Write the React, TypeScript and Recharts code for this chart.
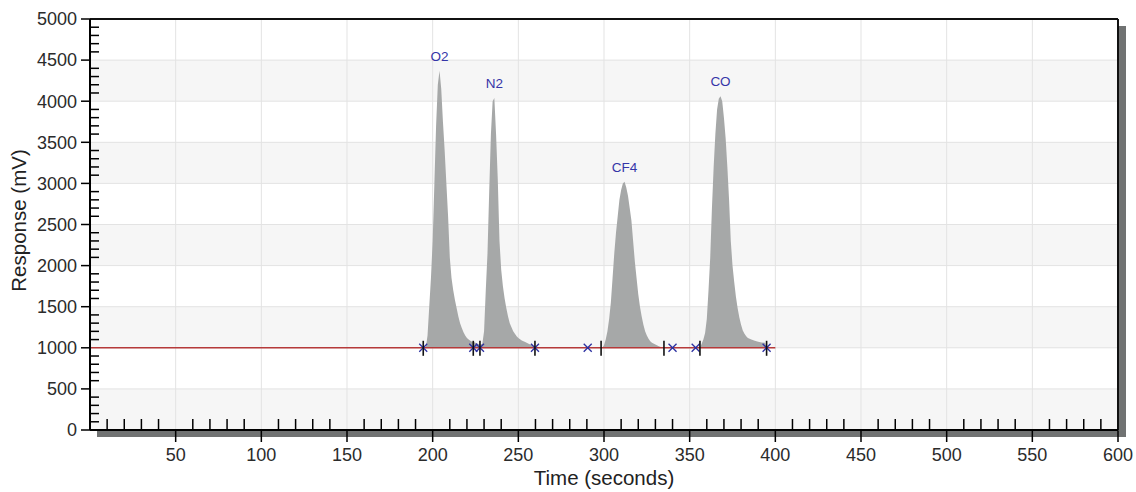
import { ComposedChart, Area, Line, Scatter, XAxis, YAxis, CartesianGrid, ReferenceLine } from 'recharts';

// Axis ticks
const xTicks = [50, 100, 150, 200, 250, 300, 350, 400, 450, 500, 550, 600];
const yTicks = [0, 500, 1000, 1500, 2000, 2500, 3000, 3500, 4000, 4500, 5000];
// minor ticks: every 10 s and every 100 mV
const xAllTicks = Array.from({ length: 60 }, (_, i) => (i + 1) * 10);
const yAllTicks = Array.from({ length: 51 }, (_, i) => i * 100);

// Baseline (red line)
const baselineTimes = [0, 400];
const baselineLevel = 1000;

// Detector trace, [time, response] pairs for each peak
const o2Trace = [
  [196, 1000], [197, 1150], [198, 1500], [199, 1850], [200, 2300], [201, 3000], [202, 3700], [203, 4200],
  [204, 4370], [205, 4150], [206, 3750], [207, 3400], [208, 3000], [209, 2600], [210, 2100], [211, 1850],
  [212, 1700], [213, 1580], [214, 1480], [215, 1380], [216, 1300], [217, 1240], [218, 1190], [219, 1150],
  [220, 1120], [221, 1100], [222, 1085], [223, 1075], [224, 1070], [225, 1060], [226, 1050], [227, 1045],
  [228, 1040],
];
const n2Trace = [
  [229, 1050], [230, 1200], [231, 1700], [232, 2150], [233, 2900], [234, 3600], [235, 4000], [236, 4040],
  [237, 3600], [238, 3050], [239, 2300], [240, 1950], [241, 1750], [242, 1600], [243, 1480], [244, 1380],
  [245, 1300], [246, 1250], [247, 1200], [248, 1170], [249, 1140], [250, 1120], [252, 1090], [254, 1070],
  [256, 1050], [258, 1030], [260, 1000],
];
const cf4Trace = [
  [299, 1000], [300, 1030], [301, 1100], [302, 1200], [303, 1350], [304, 1550], [305, 1850], [306, 2150],
  [307, 2400], [308, 2600], [309, 2800], [310, 2920], [311, 3000], [312, 3020], [313, 2950], [314, 2850],
  [315, 2700], [316, 2550], [317, 2300], [318, 2050], [319, 1850], [320, 1650], [321, 1500], [322, 1380],
  [323, 1280], [324, 1200], [325, 1150], [326, 1110], [327, 1080], [328, 1060], [330, 1040], [332, 1020],
  [334, 1005], [335, 1000],
];
const coTrace = [
  [356, 1000], [357, 1050], [358, 1100], [359, 1180], [360, 1350], [361, 1700], [362, 2100], [363, 2700],
  [364, 3200], [365, 3600], [366, 3900], [367, 4030], [368, 4060], [369, 4000], [370, 3800], [371, 3550],
  [372, 3200], [373, 2800], [374, 2300], [375, 2000], [376, 1800], [377, 1620], [378, 1480], [379, 1370],
  [380, 1280], [381, 1210], [382, 1170], [383, 1140], [384, 1120], [386, 1100], [388, 1085], [390, 1075],
  [392, 1065], [394, 1060], [395, 1000],
];

// Peak labels
const peakNames = ['O2', 'N2', 'CF4', 'CO'];
const peakTimes = [204, 236, 312, 368];
const peakHeights = [4370, 4040, 3020, 4060];

// Integration markers on the baseline
const crossTimes = [194.5, 223.7, 227.6, 259.7, 290.5, 340, 353.5, 394.9];
const tickTimes = [194.5, 223.7, 227.6, 259.7, 298.3, 335, 356, 394.9];

const FONT = "Arial, 'Liberation Sans', sans-serif";
const X_TICK_SIZE = 12;
const X_TICK_MARGIN = 3;
const Y_TICK_SIZE = 9;
const Y_TICK_MARGIN = 4;

const traceData = [...o2Trace, ...n2Trace, ...cf4Trace, ...coTrace].map(([t, v]) => ({ t, v }));
const baselineData = baselineTimes.map(t => ({ t, v: baselineLevel }));
const labelData = peakNames.map((name, i) => ({ t: peakTimes[i], v: peakHeights[i], name }));
const crossData = crossTimes.map(t => ({ t, v: baselineLevel }));
const tickData = tickTimes.map(t => ({ t, v: baselineLevel }));

// x tick: major ones get a label and an outward line, minor ones a short inward line
const XTick = (p: any) => {
  const v = p.payload.value;
  const axisY = p.y - X_TICK_SIZE - X_TICK_MARGIN;
  if (v % 50 !== 0) {
    return <line x1={p.x} x2={p.x} y1={axisY} y2={axisY - 11} stroke="#000" strokeWidth={1.5} />;
  }
  return (
    <g>
      <line x1={p.x} x2={p.x} y1={axisY} y2={axisY + X_TICK_SIZE} stroke="#000" strokeWidth={1.5} />
      <text x={p.x} y={p.y} dy="0.9em" textAnchor="middle" fontSize={18} fontFamily={FONT} fill="#2b2b2b">{v}</text>
    </g>
  );
};

const YTick = (p: any) => {
  const v = p.payload.value;
  const axisX = p.x + Y_TICK_SIZE + Y_TICK_MARGIN;
  if (v % 500 !== 0) {
    return <line x1={axisX} x2={axisX + 9} y1={p.y} y2={p.y} stroke="#000" strokeWidth={1.5} />;
  }
  return (
    <g>
      <line x1={axisX - Y_TICK_SIZE} x2={axisX} y1={p.y} y2={p.y} stroke="#000" strokeWidth={1.5} />
      <text x={p.x} y={p.y} dy="0.35em" textAnchor="end" fontSize={18} fontFamily={FONT} fill="#2b2b2b">{v}</text>
    </g>
  );
};

const CrossMark = (p: any) => (
  <g stroke="#2b2fa0" strokeWidth={1.3}>
    <line x1={p.cx - 4} y1={p.cy - 4} x2={p.cx + 4} y2={p.cy + 4} />
    <line x1={p.cx - 4} y1={p.cy + 4} x2={p.cx + 4} y2={p.cy - 4} />
  </g>
);

const TickMark = (p: any) => (
  <line x1={p.cx} y1={p.cy - 7} x2={p.cx} y2={p.cy + 8} stroke="#111" strokeWidth={1.6} />
);

const PeakLabel = (p: any) => (
  <text x={p.cx} y={p.cy - 10} textAnchor="middle" fontSize={13.5} fontFamily={FONT} fill="#3535a8">
    {p.payload.name}
  </text>
);

const YTitle = (p: any) => {
  const vb = p.viewBox;
  const cx = 18;
  const cy = vb.y + vb.height / 2 - 4;
  return (
    <text x={cx} y={cy} transform={`rotate(-90, ${cx}, ${cy})`} textAnchor="middle" dominantBaseline="central"
      fontSize={20.5} fontFamily={FONT} fill="#222">
      Response (mV)
    </text>
  );
};

const App = () => {
  return (
    <div style={{ position: 'absolute', left: 0, top: 0, width: 1136, height: 492, background: '#fff' }}>
      {/* drop shadow of the plot frame */}
      <div style={{ position: 'absolute', left: 1119, top: 26, width: 7, height: 411, background: '#707272' }} />
      <div style={{ position: 'absolute', left: 97, top: 431, width: 1029, height: 6, background: '#707272' }} />
      <div style={{ position: 'absolute', left: 0, top: 0 }}>
        <ComposedChart width={1136} height={492} margin={{ top: 19, right: 18, bottom: 2, left: 0 }}>
          <CartesianGrid stroke="#e3e3e3" strokeWidth={1} verticalPoints={undefined}
            verticalValues={xTicks} horizontalValues={yTicks}
            horizontalFill={['#ffffff', '#f6f6f6']} fillOpacity={1} />
          <XAxis dataKey="t" type="number" domain={[0, 600]} ticks={xAllTicks} interval={0} height={60}
            stroke="#000" strokeWidth={2} tickSize={X_TICK_SIZE} tickMargin={X_TICK_MARGIN}
            tick={XTick} tickLine={false}
            label={{ value: 'Time (seconds)', position: 'insideBottom', offset: 5, fontSize: 20.5, fill: '#222', fontFamily: FONT }} />
          <YAxis dataKey="v" type="number" domain={[0, 5000]} ticks={yAllTicks} interval={0} width={90}
            stroke="#000" strokeWidth={2} tickSize={Y_TICK_SIZE} tickMargin={Y_TICK_MARGIN}
            tick={YTick} tickLine={false}
            label={YTitle} />
          <ReferenceLine y={5000} stroke="#111" strokeWidth={2} />
          <ReferenceLine x={600} stroke="#111" strokeWidth={2} />
          <Line data={baselineData} dataKey="v" type="linear" stroke="#b63a3a" strokeWidth={1.5}
            dot={false} isAnimationActive={false} />
          <Area data={traceData} dataKey="v" type="linear" baseValue={baselineLevel} stroke="none"
            fill="#a6a8a8" fillOpacity={1} isAnimationActive={false} />
          <Scatter data={crossData} dataKey="v" shape={CrossMark} isAnimationActive={false} />
          <Scatter data={tickData} dataKey="v" shape={TickMark} isAnimationActive={false} />
          <Scatter data={labelData} dataKey="v" shape={PeakLabel} isAnimationActive={false} />
        </ComposedChart>
      </div>
    </div>
  );
};

export default App;
